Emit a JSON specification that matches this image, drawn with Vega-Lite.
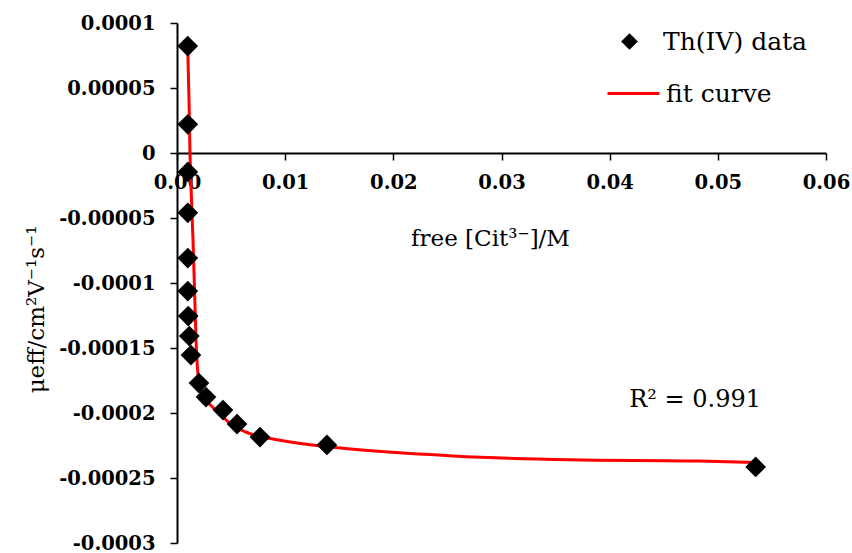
{
  "$schema": "https://vega.github.io/schema/vega-lite/v6.json",
  "width": 649,
  "height": 520,
  "autosize": "none",
  "padding": {"left": 177, "top": 23, "right": 26, "bottom": 10},
  "background": "white",
  "config": {"view": {"stroke": null}, "font": "DejaVu Serif"},
  "datasets": {
    "points": [
      {"x": 0.00099, "y": 0.0000823},
      {"x": 0.00100, "y": 0.0000221},
      {"x": 0.00100, "y": -0.0000146},
      {"x": 0.00100, "y": -0.0000460},
      {"x": 0.00100, "y": -0.0000808},
      {"x": 0.00100, "y": -0.0001062},
      {"x": 0.00104, "y": -0.0001254},
      {"x": 0.00114, "y": -0.0001408},
      {"x": 0.00129, "y": -0.0001554},
      {"x": 0.00203, "y": -0.0001770},
      {"x": 0.00268, "y": -0.0001877},
      {"x": 0.00425, "y": -0.0001977},
      {"x": 0.00555, "y": -0.0002085},
      {"x": 0.00767, "y": -0.0002185},
      {"x": 0.01386, "y": -0.0002246},
      {"x": 0.05350, "y": -0.0002415}
    ],
    "curve": [
      {"x": 0.00099, "y": 0.0000815},
      {"x": 0.00111, "y": 0.0000408},
      {"x": 0.00120, "y": 0.0},
      {"x": 0.00134, "y": -0.0000362},
      {"x": 0.00148, "y": -0.0000669},
      {"x": 0.00162, "y": -0.000105},
      {"x": 0.00176, "y": -0.000144},
      {"x": 0.00187, "y": -0.000163},
      {"x": 0.00205, "y": -0.000177},
      {"x": 0.00240, "y": -0.000186},
      {"x": 0.00323, "y": -0.000195},
      {"x": 0.00425, "y": -0.000203},
      {"x": 0.00490, "y": -0.000208},
      {"x": 0.00647, "y": -0.000215},
      {"x": 0.00887, "y": -0.000220},
      {"x": 0.01110, "y": -0.000223},
      {"x": 0.01290, "y": -0.000225},
      {"x": 0.01510, "y": -0.000227},
      {"x": 0.02550, "y": -0.000233},
      {"x": 0.03630, "y": -0.000236},
      {"x": 0.04830, "y": -0.000237},
      {"x": 0.05350, "y": -0.000238}
    ],
    "notes": [
      {"x": 0.0479, "y": -0.00019, "label": "R² = 0.991"}
    ]
  },
  "encoding": {
    "x": {
      "field": "x",
      "type": "quantitative",
      "scale": {"domain": [0, 0.06], "nice": false, "zero": false},
      "axis": {
        "title": "free [Cit³⁻]/M",
        "values": [0, 0.01, 0.02, 0.03, 0.04, 0.05, 0.06],
        "format": ".2f",
        "offset": -390,
        "grid": false,
        "domainColor": "black",
        "domainWidth": 2,
        "tickColor": "black",
        "tickWidth": 1.5,
        "tickSize": 7,
        "labelFont": "DejaVu Serif",
        "labelFontWeight": "bold",
        "labelFontSize": 19.5,
        "labelColor": "black",
        "labelPadding": 13,
        "labelFlush": false,
        "labelOverlap": false,
        "titleFont": "DejaVu Serif",
        "titleFontWeight": "normal",
        "titleFontSize": 23,
        "titleColor": "black",
        "titleX": 313,
        "titleY": 85,
        "titleAlign": "center",
        "titleBaseline": "middle"
      }
    },
    "y": {
      "field": "y",
      "type": "quantitative",
      "scale": {"domain": [-0.0003, 0.0001], "nice": false, "zero": false},
      "axis": {
        "title": "μeff/cm²V⁻¹s⁻¹",
        "values": [0.0001, 0.00005, 0, -0.00005, -0.0001, -0.00015, -0.0002, -0.00025, -0.0003],
        "labelExpr": "'' + datum.value",
        "grid": false,
        "domainColor": "black",
        "domainWidth": 2,
        "tickColor": "black",
        "tickWidth": 1.5,
        "tickSize": 7,
        "labelFont": "DejaVu Serif",
        "labelFontWeight": "bold",
        "labelFontSize": 19.5,
        "labelColor": "black",
        "labelPadding": 15,
        "labelFlush": false,
        "labelOverlap": false,
        "titleFont": "DejaVu Serif",
        "titleFontWeight": "normal",
        "titleFontSize": 23,
        "titleColor": "black",
        "titleX": -141,
        "titleY": 286,
        "titleAngle": -90,
        "titleAlign": "center",
        "titleBaseline": "middle"
      }
    }
  },
  "layer": [
    {
      "data": {"name": "curve"},
      "mark": {"type": "line", "strokeWidth": 3, "interpolate": "monotone"},
      "encoding": {
        "color": {
          "datum": "fit curve",
          "scale": {"range": ["#ff0000"]},
          "legend": {
            "orient": "none",
            "legendX": 429,
            "legendY": 43,
            "title": null,
            "padding": 0,
            "symbolType": "stroke",
            "symbolSize": 2700,
            "symbolStrokeWidth": 3,
            "labelFont": "DejaVu Serif",
            "labelFontSize": 25,
            "labelColor": "black",
            "labelOffset": 5
          }
        }
      }
    },
    {
      "data": {"name": "points"},
      "mark": {"type": "point", "filled": true, "color": "black", "opacity": 1, "size": 430},
      "encoding": {
        "shape": {
          "datum": "Th(IV) data",
          "scale": {"range": ["diamond"]},
          "legend": {
            "orient": "none",
            "legendX": 440,
            "legendY": 6,
            "title": null,
            "padding": 0,
            "symbolSize": 280,
            "symbolFillColor": "black",
            "symbolStrokeColor": "black",
            "symbolOpacity": 1,
            "labelFont": "DejaVu Serif",
            "labelFontSize": 25,
            "labelColor": "black",
            "labelOffset": 21
          }
        }
      }
    },
    {
      "data": {"name": "notes"},
      "mark": {"type": "text", "font": "DejaVu Serif", "fontSize": 24, "color": "black", "align": "center", "baseline": "middle"},
      "encoding": {"text": {"field": "label"}}
    }
  ]
}
